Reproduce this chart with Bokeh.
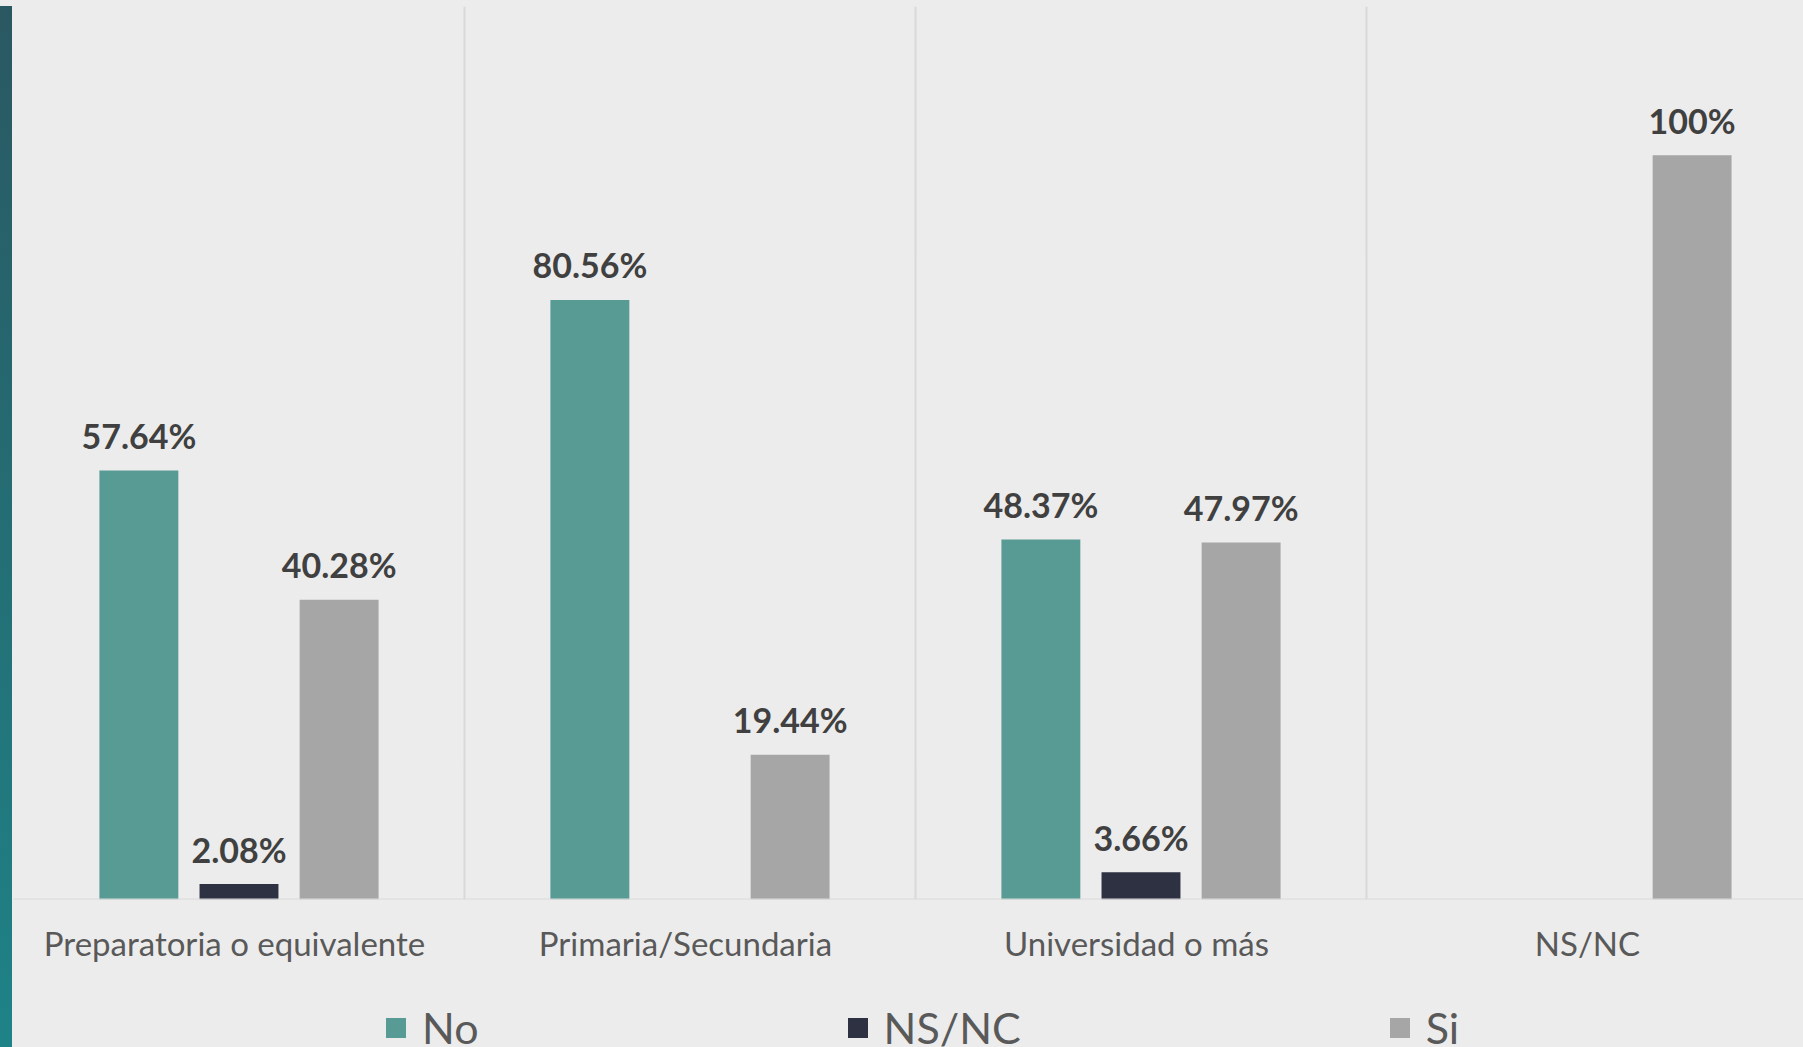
from bokeh.plotting import figure
from bokeh.models import (ColumnDataSource, Range1d, FixedTicker, Span, Legend, LegendItem,
                          Div, GlobalInlineStyleSheet)
from bokeh.layouts import row, column
from bokeh.core.properties import value
from bokeh.embed import file_html
from bokeh.resources import INLINE

categories = ["Preparatoria o equivalente", "Primaria/Secundaria", "Universidad o más", "NS/NC"]
series = ["No", "NS/NC", "Si"]
no_vals = [57.64, 80.56, 48.37, 0]
nsnc_vals = [2.08, 0, 3.66, 0]
si_vals = [40.28, 19.44, 47.97, 100]
labels_no = ["57.64%", "80.56%", "48.37%", ""]
labels_nsnc = ["2.08%", "", "3.66%", ""]
labels_si = ["40.28%", "19.44%", "47.97%", "100%"]

colors = ["#589a94", "#2e3142", "#a6a6a6"]
offsets = [-0.222, 0.0, 0.222]
BG = "#ececec"
FONT = "Lato"

# main chart
p = figure(width=1791, height=968, output_backend="svg", toolbar_location=None,
           x_range=Range1d(0, 3.969), y_range=Range1d(0, 120),
           y_axis_location=None, min_border_left=1, min_border_right=0,
           min_border_top=6, min_border_bottom=69,
           background_fill_color=BG, border_fill_color=BG, outline_line_color=None)

for vals, labs, col, off in zip([no_vals, nsnc_vals, si_vals],
                                [labels_no, labels_nsnc, labels_si], colors, offsets):
    xs = [i + 0.5 + off for i in range(len(categories))]
    src = ColumnDataSource(dict(x=xs, top=vals, lab=labs))
    p.vbar(x="x", top="top", width=0.175, bottom=0, source=src,
           fill_color=col, line_color=None)
    p.text(x="x", y="top", text="lab", source=src, text_font=value(FONT),
           text_font_style="bold", text_font_size="34px", text_color="#404040",
           text_align="center", text_baseline="alphabetic", y_offset=-35)

p.add_layout(Span(location=0, dimension="width", line_color="#d9d9d9", line_width=2))

p.ygrid.visible = False
p.xgrid.ticker = FixedTicker(ticks=[0, 1, 2, 3])
p.xgrid.grid_line_color = "#d9d9d9"
p.xgrid.grid_line_width = 2

ticks = [i + 0.49 for i in range(len(categories))]
p.xaxis.ticker = FixedTicker(ticks=ticks)
p.xaxis.major_label_overrides = {t: c for t, c in zip(ticks, categories)}
p.xaxis.major_label_text_font = FONT
p.xaxis.major_label_text_font_size = "33px"
p.xaxis.major_label_text_color = "#595959"
p.xaxis.major_label_standoff = 17
p.xaxis.major_tick_line_color = None
p.xaxis.minor_tick_line_color = None
p.xaxis.axis_line_color = None

# legend strip below the chart (legend kept inside its own frame so it is not clipped)
leg = figure(width=1791, height=100, output_backend="svg", toolbar_location=None,
             x_range=Range1d(0, 1791), y_range=Range1d(0, 100),
             x_axis_location=None, y_axis_location=None, min_border=0,
             min_border_left=0, min_border_right=0, min_border_top=0, min_border_bottom=0,
             background_fill_color=BG, border_fill_color=BG, outline_line_color=None)
leg.xgrid.visible = False
leg.ygrid.visible = False
# zero-height placeholder bars: they only carry each series' colour into the legend
dummy = [leg.vbar(x=[0], top=[0], bottom=0, width=1, fill_color=c, line_color=None)
         for c in colors]
legend = Legend(items=[LegendItem(label=s, renderers=[r]) for s, r in zip(series, dummy)],
                location=(370, 15), orientation="horizontal", spacing=366,
                padding=0, margin=0, glyph_width=25, glyph_height=25, label_standoff=14,
                label_text_font=FONT, label_text_font_size="43px", label_text_color="#595959",
                background_fill_alpha=0, border_line_alpha=0, inactive_fill_alpha=0)
leg.add_layout(legend)

stripe = Div(text="", width=12, height=1041, margin=(6, 0, 0, 0),
             styles={"background": "linear-gradient(to bottom, #2a5862, #1e8387)"},
             stylesheets=[GlobalInlineStyleSheet(
                 css="html, body {margin:0; padding:0; background:#ececec; overflow:hidden;}")])

layout = row(stripe, column(p, leg, spacing=0), spacing=0)
open("out.html", "w").write(file_html(layout, INLINE))
